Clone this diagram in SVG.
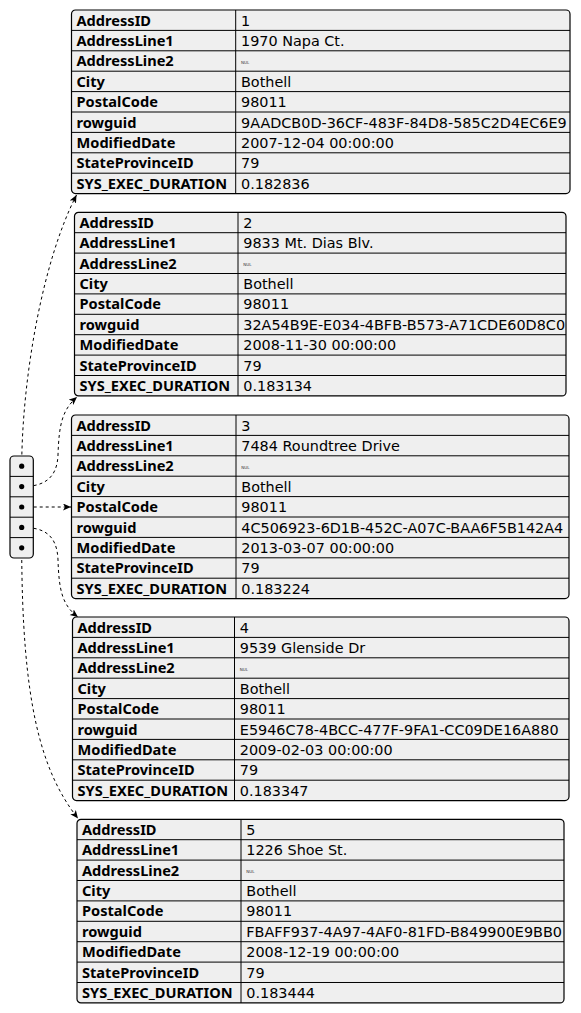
<svg xmlns="http://www.w3.org/2000/svg" width="581" height="1013" viewBox="0 0 581 1013">
<style>
.bg{fill:#ffffff}
.box{fill:#efefef;stroke:#000;stroke-width:1.2}
.ln{stroke:#000;stroke-width:1;fill:none}
.k{font-family:"Noto Sans","DejaVu Sans",sans-serif;font-weight:bold;font-size:14.6px;fill:#000}
.v{font-family:"DejaVu Sans","Liberation Sans",sans-serif;font-size:14.4px;fill:#000}
.nul{font-family:"DejaVu Sans",sans-serif;font-size:4px;fill:#333}
.edge{stroke:#000;stroke-width:1;fill:none;stroke-dasharray:3,3;marker-end:url(#arr)}
.dot{fill:#000}
</style>
<defs>
<marker id="arr" markerUnits="userSpaceOnUse" markerWidth="9" markerHeight="8" refX="8" refY="3.5" orient="auto">
<path d="M0,0 L8,3.5 L0,7 L2,3.5 z" fill="#000"/>
</marker>
</defs>
<rect class="bg" x="0" y="0" width="581" height="1013"/>

<g id="edges">
<path class="edge" d="M21.7,466.2 C22,380 42,262 76.5,195"/>
<path class="edge" d="M21.7,486.6 C42,486.6 57,480 58,455 C59,425 62,410 77,397"/>
<path class="edge" d="M21.7,507 L71,507"/>
<path class="edge" d="M21.7,527.4 C42,527.4 57,533 58,560 C59,590 62,605 78,617"/>
<path class="edge" d="M21.7,547.8 C22,700 40,770 78,818.5"/>
</g>

<g id="array">
<rect class="box" x="10" y="456" width="23.3" height="102" rx="4"/>
<path class="ln" d="M10,476.4 H33.3 M10,496.8 H33.3 M10,517.2 H33.3 M10,537.6 H33.3"/>
<circle class="dot" cx="21.7" cy="466.2" r="2.6"/>
<circle class="dot" cx="21.7" cy="486.6" r="2.6"/>
<circle class="dot" cx="21.7" cy="507" r="2.6"/>
<circle class="dot" cx="21.7" cy="527.4" r="2.6"/>
<circle class="dot" cx="21.7" cy="547.8" r="2.6"/>
</g>

<g id="row1" transform="translate(71.5,10)">
<rect class="box" x="0" y="0" width="498.5" height="183.6" rx="4"/>
<path class="ln" d="M0,20.4 H498.5 M0,40.8 H498.5 M0,61.2 H498.5 M0,81.6 H498.5 M0,102 H498.5 M0,122.4 H498.5 M0,142.8 H498.5 M0,163.2 H498.5 M164.2,0 V183.6"/>
<text class="k" x="5" y="15.6">AddressID</text>
<text class="k" x="5" y="36">AddressLine1</text>
<text class="k" x="5" y="56.4">AddressLine2</text>
<text class="k" x="5" y="76.8">City</text>
<text class="k" x="5" y="97.2">PostalCode</text>
<text class="k" x="5" y="117.6">rowguid</text>
<text class="k" x="5" y="138">ModifiedDate</text>
<text class="k" x="5" y="158.4">StateProvinceID</text>
<text class="k" x="5" y="178.8">SYS_EXEC_DURATION</text>
<text class="v" x="169.5" y="15.6">1</text>
<text class="v" x="169.5" y="36">1970 Napa Ct.</text>
<text class="nul" x="169.5" y="53.5">NUL</text>
<text class="v" x="169.5" y="76.8">Bothell</text>
<text class="v" x="169.5" y="97.2">98011</text>
<text class="v" x="169.5" y="117.6">9AADCB0D-36CF-483F-84D8-585C2D4EC6E9</text>
<text class="v" x="169.5" y="138">2007-12-04 00:00:00</text>
<text class="v" x="169.5" y="158.4">79</text>
<text class="v" x="169.5" y="178.8">0.182836</text>
</g>

<g id="row2" transform="translate(74.5,212.3)">
<rect class="box" x="0" y="0" width="491.5" height="183.6" rx="4"/>
<path class="ln" d="M0,20.4 H491.5 M0,40.8 H491.5 M0,61.2 H491.5 M0,81.6 H491.5 M0,102 H491.5 M0,122.4 H491.5 M0,142.8 H491.5 M0,163.2 H491.5 M163.5,0 V183.6"/>
<text class="k" x="5" y="15.6">AddressID</text>
<text class="k" x="5" y="36">AddressLine1</text>
<text class="k" x="5" y="56.4">AddressLine2</text>
<text class="k" x="5" y="76.8">City</text>
<text class="k" x="5" y="97.2">PostalCode</text>
<text class="k" x="5" y="117.6">rowguid</text>
<text class="k" x="5" y="138">ModifiedDate</text>
<text class="k" x="5" y="158.4">StateProvinceID</text>
<text class="k" x="5" y="178.8">SYS_EXEC_DURATION</text>
<text class="v" x="168.8" y="15.6">2</text>
<text class="v" x="168.8" y="36">9833 Mt. Dias Blv.</text>
<text class="nul" x="168.8" y="53.5">NUL</text>
<text class="v" x="168.8" y="76.8">Bothell</text>
<text class="v" x="168.8" y="97.2">98011</text>
<text class="v" x="168.8" y="117.6">32A54B9E-E034-4BFB-B573-A71CDE60D8C0</text>
<text class="v" x="168.8" y="138">2008-11-30 00:00:00</text>
<text class="v" x="168.8" y="158.4">79</text>
<text class="v" x="168.8" y="178.8">0.183134</text>
</g>

<g id="row3" transform="translate(71.5,415)">
<rect class="box" x="0" y="0" width="497.5" height="183.6" rx="4"/>
<path class="ln" d="M0,20.4 H497.5 M0,40.8 H497.5 M0,61.2 H497.5 M0,81.6 H497.5 M0,102 H497.5 M0,122.4 H497.5 M0,142.8 H497.5 M0,163.2 H497.5 M164.5,0 V183.6"/>
<text class="k" x="5" y="15.6">AddressID</text>
<text class="k" x="5" y="36">AddressLine1</text>
<text class="k" x="5" y="56.4">AddressLine2</text>
<text class="k" x="5" y="76.8">City</text>
<text class="k" x="5" y="97.2">PostalCode</text>
<text class="k" x="5" y="117.6">rowguid</text>
<text class="k" x="5" y="138">ModifiedDate</text>
<text class="k" x="5" y="158.4">StateProvinceID</text>
<text class="k" x="5" y="178.8">SYS_EXEC_DURATION</text>
<text class="v" x="169.8" y="15.6">3</text>
<text class="v" x="169.8" y="36">7484 Roundtree Drive</text>
<text class="nul" x="169.8" y="53.5">NUL</text>
<text class="v" x="169.8" y="76.8">Bothell</text>
<text class="v" x="169.8" y="97.2">98011</text>
<text class="v" x="169.8" y="117.6">4C506923-6D1B-452C-A07C-BAA6F5B142A4</text>
<text class="v" x="169.8" y="138">2013-03-07 00:00:00</text>
<text class="v" x="169.8" y="158.4">79</text>
<text class="v" x="169.8" y="178.8">0.183224</text>
</g>

<g id="row4" transform="translate(72.5,617)">
<rect class="box" x="0" y="0" width="496.5" height="183.6" rx="4"/>
<path class="ln" d="M0,20.4 H496.5 M0,40.8 H496.5 M0,61.2 H496.5 M0,81.6 H496.5 M0,102 H496.5 M0,122.4 H496.5 M0,142.8 H496.5 M0,163.2 H496.5 M162,0 V183.6"/>
<text class="k" x="5" y="15.6">AddressID</text>
<text class="k" x="5" y="36">AddressLine1</text>
<text class="k" x="5" y="56.4">AddressLine2</text>
<text class="k" x="5" y="76.8">City</text>
<text class="k" x="5" y="97.2">PostalCode</text>
<text class="k" x="5" y="117.6">rowguid</text>
<text class="k" x="5" y="138">ModifiedDate</text>
<text class="k" x="5" y="158.4">StateProvinceID</text>
<text class="k" x="5" y="178.8">SYS_EXEC_DURATION</text>
<text class="v" x="167.3" y="15.6">4</text>
<text class="v" x="167.3" y="36">9539 Glenside Dr</text>
<text class="nul" x="167.3" y="53.5">NUL</text>
<text class="v" x="167.3" y="76.8">Bothell</text>
<text class="v" x="167.3" y="97.2">98011</text>
<text class="v" x="167.3" y="117.6">E5946C78-4BCC-477F-9FA1-CC09DE16A880</text>
<text class="v" x="167.3" y="138">2009-02-03 00:00:00</text>
<text class="v" x="167.3" y="158.4">79</text>
<text class="v" x="167.3" y="178.8">0.183347</text>
</g>

<g id="row5" transform="translate(77,819.3)">
<rect class="box" x="0" y="0" width="487" height="183.6" rx="4"/>
<path class="ln" d="M0,20.4 H487 M0,40.8 H487 M0,61.2 H487 M0,81.6 H487 M0,102 H487 M0,122.4 H487 M0,142.8 H487 M0,163.2 H487 M164,0 V183.6"/>
<text class="k" x="5" y="15.6">AddressID</text>
<text class="k" x="5" y="36">AddressLine1</text>
<text class="k" x="5" y="56.4">AddressLine2</text>
<text class="k" x="5" y="76.8">City</text>
<text class="k" x="5" y="97.2">PostalCode</text>
<text class="k" x="5" y="117.6">rowguid</text>
<text class="k" x="5" y="138">ModifiedDate</text>
<text class="k" x="5" y="158.4">StateProvinceID</text>
<text class="k" x="5" y="178.8">SYS_EXEC_DURATION</text>
<text class="v" x="169.3" y="15.6">5</text>
<text class="v" x="169.3" y="36">1226 Shoe St.</text>
<text class="nul" x="169.3" y="53.5">NUL</text>
<text class="v" x="169.3" y="76.8">Bothell</text>
<text class="v" x="169.3" y="97.2">98011</text>
<text class="v" x="169.3" y="117.6">FBAFF937-4A97-4AF0-81FD-B849900E9BB0</text>
<text class="v" x="169.3" y="138">2008-12-19 00:00:00</text>
<text class="v" x="169.3" y="158.4">79</text>
<text class="v" x="169.3" y="178.8">0.183444</text>
</g>
</svg>
